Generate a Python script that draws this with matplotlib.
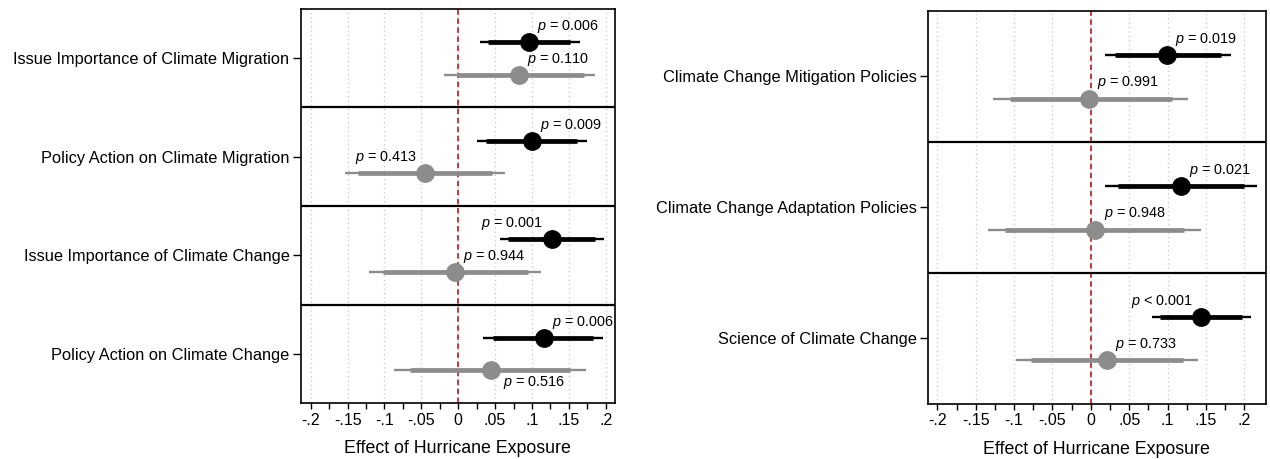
import matplotlib.pyplot as plt

plt.rcParams['font.family'] = ['Liberation Sans', 'DejaVu Sans']
plt.rcParams['mathtext.fontset'] = 'custom'
plt.rcParams['mathtext.it'] = 'Liberation Sans:italic'
plt.rcParams['mathtext.rm'] = 'Liberation Sans'

# valori: pannello sinistro
left_labels = ["Issue Importance of Climate Migration", "Policy Action on Climate Migration",
               "Issue Importance of Climate Change", "Policy Action on Climate Change"]
left_black_est = [0.096, 0.100, 0.127, 0.116]
left_black_lo95 = [0.029, 0.026, 0.056, 0.034]
left_black_hi95 = [0.165, 0.174, 0.198, 0.196]
left_black_lo90 = [0.040, 0.038, 0.068, 0.047]
left_black_hi90 = [0.152, 0.161, 0.186, 0.183]
left_black_p = ["= 0.006", "= 0.009", "= 0.001", "= 0.006"]
left_gray_est = [0.083, -0.045, -0.004, 0.044]
left_gray_lo95 = [-0.019, -0.153, -0.121, -0.087]
left_gray_hi95 = [0.186, 0.063, 0.112, 0.173]
left_gray_lo90 = [-0.002, -0.136, -0.102, -0.065]
left_gray_hi90 = [0.170, 0.046, 0.095, 0.151]
left_gray_p = ["= 0.110", "= 0.413", "= 0.944", "= 0.516"]

# pannello destro
right_labels = ["Climate Change Mitigation Policies", "Climate Change Adaptation Policies",
                "Science of Climate Change"]
right_black_est = [0.0995, 0.117, 0.144]
right_black_lo95 = [0.018, 0.019, 0.079]
right_black_hi95 = [0.182, 0.216, 0.209]
right_black_lo90 = [0.031, 0.035, 0.090]
right_black_hi90 = [0.169, 0.200, 0.197]
right_black_p = ["= 0.019", "= 0.021", "< 0.001"]
right_gray_est = [-0.002, 0.006, 0.021]
right_gray_lo95 = [-0.127, -0.134, -0.098]
right_gray_hi95 = [0.126, 0.144, 0.139]
right_gray_lo90 = [-0.106, -0.112, -0.078]
right_gray_hi90 = [0.105, 0.121, 0.120]
right_gray_p = ["= 0.991", "= 0.948", "= 0.733"]

tick_values = [-0.2, -0.15, -0.1, -0.05, 0, 0.05, 0.1, 0.15, 0.2]
tick_labels = ["-.2", "-.15", "-.1", "-.05", "0", ".05", ".1", ".15", ".2"]

GRAY = '#8c8c8c'

# posizione delle etichette p (in punti rispetto al marker)
offsets = {'ur': ((5.8, 11.5), 'left'), 'ul': ((-6.0, 11.5), 'right'), 'lr': ((8.6, -8.6), 'left')}


def serie(ax, y, est, lo95, hi95, lo90, hi90, pvals, places, color):
    for i in range(len(est)):
        yy = i + y
        ax.plot([lo95[i], hi95[i]], [yy, yy], color=color, lw=1.7, solid_capstyle='butt', zorder=3)
        ax.plot([lo90[i], hi90[i]], [yy, yy], color=color, lw=3.4, solid_capstyle='butt', zorder=3)
        ax.plot(est[i], yy, 'o', color=color, markersize=12.5, zorder=4)
        off, ha = offsets[places[i]]
        ax.annotate(r"$p$ " + pvals[i], (est[i], yy), xytext=off, textcoords='offset points',
                    ha=ha, va='center', fontsize=10.4)


def pannello(ax, labels, xlim, black, gray, pl_black, pl_gray):
    n = len(labels)
    ax.set_xlim(xlim)
    ax.set_ylim(n, 0)
    for x in tick_values:
        ax.axvline(x, color='#c4c4c4', lw=0.9, ls=(0, (1, 2.5)), zorder=0)
    ax.axvline(0, color='#c0282d', lw=1.3, ls=(0, (3, 2)), zorder=1)
    for k in range(1, n):
        ax.axhline(k, color='black', lw=1.6, zorder=2)
    serie(ax, 0.34, *black, pl_black, 'black')
    serie(ax, 0.67, *gray, pl_gray, GRAY)
    ax.set_yticks([i + 0.5 for i in range(n)])
    ax.set_yticklabels(labels, fontsize=11.8)
    ax.set_xticks(tick_values)
    ax.set_xticklabels(tick_labels, fontsize=11.5)
    ax.set_xticks([-0.175, -0.125, -0.075, -0.025, 0.025, 0.075, 0.125, 0.175], minor=True)
    ax.tick_params(axis='x', which='both', length=4, width=1, pad=3)
    ax.tick_params(axis='y', length=6, width=1, pad=2)
    ax.set_xlabel("Effect of Hurricane Exposure", fontsize=12.8, labelpad=9)
    for s in ax.spines.values():
        s.set_linewidth(1.2)


fig = plt.figure(figsize=(12.7, 4.59), dpi=100)
ax1 = fig.add_axes([0.2368, 0.122, 0.2475, 0.8584])
ax2 = fig.add_axes([0.7305, 0.1209, 0.266, 0.8551])

pannello(ax1, left_labels, (-0.2136, 0.2127),
         (left_black_est, left_black_lo95, left_black_hi95, left_black_lo90, left_black_hi90, left_black_p),
         (left_gray_est, left_gray_lo95, left_gray_hi95, left_gray_lo90, left_gray_hi90, left_gray_p),
         ['ur', 'ur', 'ul', 'ur'], ['ur', 'ul', 'ur', 'lr'])
pannello(ax2, right_labels, (-0.2125, 0.2275),
         (right_black_est, right_black_lo95, right_black_hi95, right_black_lo90, right_black_hi90, right_black_p),
         (right_gray_est, right_gray_lo95, right_gray_hi95, right_gray_lo90, right_gray_hi90, right_gray_p),
         ['ur', 'ur', 'ul'], ['ur', 'ur', 'ur'])

fig.savefig("out.png", dpi=100)
